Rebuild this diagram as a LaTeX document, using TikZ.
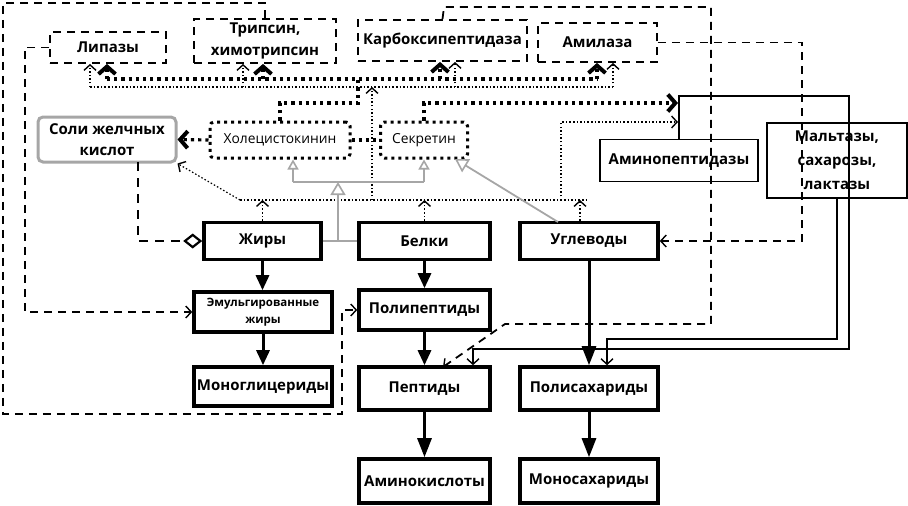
\documentclass[tikz,border=0pt]{standalone}
\usepackage{fontspec}
\setmainfont{Open Sans}
\usetikzlibrary{arrows.meta}
\begin{document}
\begin{tikzpicture}[x=1pt,y=-1pt,
  base/.style={inner sep=0pt, align=center, font=\bfseries\fontsize{15}{21}\selectfont},
  food/.style={base, draw, line width=3.6pt},
  enz/.style={base, draw, line width=1.8pt, dash pattern=on 8pt off 6pt},
  horm/.style={base, draw, line width=3pt, dash pattern=on 3pt off 4pt, rounded corners=4pt, font=\fontsize{13.8}{16}\selectfont},
  plainbox/.style={base, draw, line width=1.8pt},
  saltbox/.style={base, draw=gray!70, line width=3pt, rounded corners=5pt},
  conv/.style={line width=3pt, -{Triangle[length=15pt,width=13pt]}},
  convlong/.style={line width=3pt, -{Triangle[length=19pt,width=14pt]}},
  dsh/.style={line width=1.8pt, dash pattern=on 8pt off 6pt},
  tdot/.style={line width=3.2pt, dash pattern=on 3.2pt off 4pt},
  fdot/.style={line width=1.2pt, dash pattern=on 1.5pt off 2.1pt},
  solidconn/.style={line width=1.8pt},
  thinhead/.style={-{Straight Barb[length=5.5pt,width=12pt,line width=1.4pt]}},
  heavyhead/.style={-{Straight Barb[length=7.5pt,width=17pt,line width=4pt]}},
  gen/.style={line width=1.8pt, draw=gray!70},
  genhead/.style={-{Triangle[open,length=10pt,width=11pt,fill=white,line width=1.6pt]}},
  genbig/.style={-{Triangle[open,length=13pt,width=15pt,fill=white,line width=1.6pt]}},
]
\useasboundingbox (0,0) rectangle (908,506);

% enzymes (top)
\node[enz, minimum width=116pt, minimum height=31pt] (lip) at (108,47.5) {Липазы};
\node[enz, minimum width=142pt, minimum height=44pt, font=\bfseries\fontsize{15}{21.5}\selectfont] (tryp) at (265,41) {Трипсин,\\химотрипсин};
\node[enz, minimum width=169pt, minimum height=41pt] (carb) at (442.5,40.5) {Карбоксипептидаза};
\node[enz, minimum width=119pt, minimum height=39pt] (amyl) at (597.5,42.5) {Амилаза};

% middle
\node[saltbox, minimum width=138pt, minimum height=45pt, font=\bfseries\fontsize{15}{21}\selectfont] (salt) at (107,139.5) {Соли желчных\\кислот};
\node[horm, minimum width=140pt, minimum height=36pt] (chol) at (280,140) {Холецистокинин};
\node[horm, minimum width=87pt, minimum height=36pt] (secr) at (424,140) {Секретин};
\node[plainbox, minimum width=158pt, minimum height=42pt] (amino) at (679,160.5) {Аминопептидазы};
\node[plainbox, minimum width=140pt, minimum height=75pt, font=\bfseries\fontsize{15}{24}\selectfont] (malt) at (837,160.5) {Мальтазы,\\сахарозы,\\лактазы};

% food rows
\node[food, minimum width=117pt, minimum height=37pt] (fat) at (262.5,241) {Жиры};
\node[food, minimum width=131pt, minimum height=37pt] (prot) at (424.5,241) {Белки};
\node[food, minimum width=138pt, minimum height=37pt] (carbo) at (589,241) {Углеводы};
\node[food, minimum width=138pt, minimum height=40pt, font=\bfseries\fontsize{11.5}{17}\selectfont] (emul) at (263,312) {Эмульгированные\\жиры};
\node[food, minimum width=131pt, minimum height=40pt] (poly) at (424.5,310) {Полипептиды};
\node[food, minimum width=138pt, minimum height=39pt] (mono) at (263,386.5) {Моноглицериды};
\node[food, minimum width=131pt, minimum height=43pt] (pept) at (424.5,388.5) {Пептиды};
\node[food, minimum width=138pt, minimum height=43pt] (polys) at (589,388.5) {Полисахариды};
\node[food, minimum width=131pt, minimum height=44pt] (amac) at (424.5,481) {Аминокислоты};
\node[food, minimum width=138pt, minimum height=44pt] (monos) at (589,481) {Моносахариды};

% helper coordinates
\coordinate (rectIn1) at (678,103);
\coordinate (rectIn2) at (678,122);
\coordinate (busL) at (240,200);
\coordinate (carbIn) at (443,367);

% conversion arrows
\draw[conv] (fat.south) -- (fat.south |- emul.north);
\draw[conv] (emul.south) -- (emul.south |- mono.north);
\draw[conv] (prot) -- (poly);
\draw[conv] (poly) -- (pept);
\draw[convlong] (pept) -- (amac);
\draw[convlong] (carbo) -- (polys);
\draw[convlong] (polys) -- (monos);

% dashed enzyme connectors
\draw[dsh, thinhead] (tryp.north) -- (265,3) -- (3,3) -- (3,414) -- (342,414) -- (342,310) -- (poly.west);
\draw[dsh, thinhead] (lip.west) -- (25,47.5) -- (25,312) -- (emul.west);
\draw[dsh, thinhead] (carb.north) -- (444,7) -- (711,7) -- (711,324) -- (505,324) -- (carbIn);
\draw[dsh, thinhead] (amyl.east) -- (802,42.5) -- (802,241) -- (carbo.east);
\draw[line width=2.5pt, dash pattern=on 9pt off 7pt, -{Diamond[open,length=19pt,width=15pt,line width=2.2pt]}] (138,162) -- (138,241) -- (fat.west);

% solid enzyme connectors
\draw[solidconn, thinhead] (amino.north) -- (679,96) -- (849,96) -- (849,349) -- (473,349) -- (473,0 |- pept.north);
\draw[solidconn, thinhead] (malt.south) -- (837,339) -- (607,339) -- (607,0 |- polys.north);

% thick dotted (hormone actions)
\draw[tdot] (chol.north) -- (280,103) -- (358,103) -- (358,79);
\draw[tdot] (107,79) -- (597,79);
\draw[tdot, heavyhead] (107,79) -- (107,0 |- lip.south);
\draw[tdot, heavyhead] (263,79) -- (263,0 |- tryp.south);
\draw[tdot, heavyhead] (440,79) -- (440,0 |- carb.south);
\draw[tdot, heavyhead] (597,79) -- (597,0 |- amyl.south);
\draw[tdot, heavyhead] (chol.west) -- (salt.east);
\draw[tdot] (chol.east) -- (secr.west);
\draw[tdot, heavyhead] (secr.north) -- (424,103) -- (rectIn1);

% thin dotted (stimulation)
\draw[fdot] (busL) -- (588,200);
\draw[fdot, thinhead] (fat.north) -- (fat.north |- busL);
\draw[fdot, thinhead] (prot.north) -- (prot.north |- busL);
\draw[fdot, thinhead] (580,0 |- carbo.north) -- (580,200);
\draw[fdot, thinhead] (busL) -- (salt.south east);
\draw[fdot, thinhead] (372,200) -- (372,87);
\draw[fdot, thinhead] (561,200) -- (561,122) -- (rectIn2);
\draw[fdot] (90,87) -- (613,87);
\draw[fdot, thinhead] (90,87) -- (90,0 |- lip.south);
\draw[fdot, thinhead] (243,87) -- (243,0 |- tryp.south);
\draw[fdot, thinhead] (455,87) -- (455,0 |- carb.south);
\draw[fdot, thinhead] (613,87) -- (613,0 |- amyl.south);

% gray generalization lines
\draw[gen] (fat.east) -- (prot.west);
\draw[gen, genbig] (338,241) -- (338,182);
\draw[gen] (293,182) -- (424,182);
\draw[gen, genhead] (293,182) -- (293,0 |- chol.south);
\draw[gen, genhead] (424,182) -- (secr.south);
\draw[gen, genbig] (558,222) -- (455,159);
\end{tikzpicture}
\end{document}
